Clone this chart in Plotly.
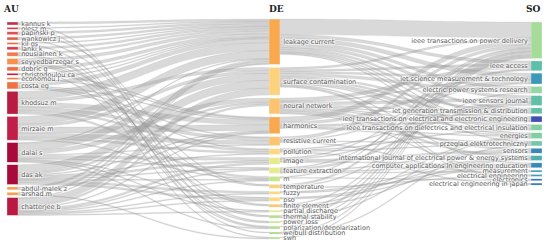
import plotly.graph_objects as go

# ---------------- data ----------------
au_labels = ["kannus k", "olesz m", "papinski p", "wankowicz j", "kil gs", "lanki k",
             "nousiainen k", "seyyedbarzegar s", "dobric g", "christodoulou ca",
             "economou l", "costa eg", "khodsuz m", "mirzaie m", "dalai s", "das ak",
             "abdul-malek z", "arshad m", "chatterjee b"]
de_labels = ["leakage current", "surface contamination", "neural network", "harmonics",
             "resistive current", "pollution", "image", "feature extraction", "m",
             "temperature", "fuzzy", "pso", "finite element", "partial discharge",
             "thermal stability", "power loss", "polarization/depolarization",
             "weibull distribution", "swh"]
so_labels = ["ieee transactions on power delivery", "ieee access",
             "iet science measurement & technology", "electric power systems research",
             "ieee sensors journal", "iet generation transmission & distribution",
             "ieej transactions on electrical and electronic engineering",
             "ieee transactions on dielectrics and electrical insulation", "energies",
             "przeglad elektrotechniczny", "sensors",
             "international journal of electrical power & energy systems",
             "computer applications in engineering education", "measurement",
             "electrical engineering", "electronics", "electrical engineering in japan"]

au_de_src = ["kannus k", "kannus k", "olesz m", "olesz m", "papinski p", "papinski p",
             "wankowicz j", "wankowicz j", "kil gs", "kil gs", "lanki k", "lanki k",
             "nousiainen k", "nousiainen k", "nousiainen k",
             "seyyedbarzegar s", "seyyedbarzegar s", "seyyedbarzegar s", "seyyedbarzegar s",
             "dobric g", "dobric g", "christodoulou ca", "christodoulou ca",
             "economou l", "economou l",
             "costa eg", "costa eg", "costa eg", "costa eg",
             "khodsuz m", "khodsuz m", "khodsuz m", "khodsuz m", "khodsuz m", "khodsuz m",
             "mirzaie m", "mirzaie m", "mirzaie m", "mirzaie m", "mirzaie m", "mirzaie m",
             "dalai s", "dalai s", "dalai s", "dalai s", "dalai s", "dalai s", "dalai s",
             "dalai s", "dalai s",
             "das ak", "das ak", "das ak", "das ak", "das ak", "das ak", "das ak", "das ak",
             "das ak",
             "abdul-malek z", "abdul-malek z", "arshad m", "arshad m",
             "chatterjee b", "chatterjee b", "chatterjee b", "chatterjee b", "chatterjee b",
             "chatterjee b", "chatterjee b", "chatterjee b", "chatterjee b", "chatterjee b"]
au_de_tgt = ["leakage current", "thermal stability", "leakage current", "power loss",
             "leakage current", "temperature", "leakage current", "finite element",
             "leakage current", "weibull distribution", "leakage current",
             "polarization/depolarization",
             "leakage current", "thermal stability", "power loss",
             "leakage current", "finite element", "temperature", "polarization/depolarization",
             "leakage current", "swh", "leakage current", "harmonics",
             "leakage current", "harmonics",
             "leakage current", "pollution", "harmonics", "resistive current",
             "leakage current", "harmonics", "resistive current", "surface contamination",
             "pollution", "m",
             "leakage current", "harmonics", "resistive current", "surface contamination",
             "pollution", "m",
             "leakage current", "surface contamination", "neural network", "resistive current",
             "image", "feature extraction", "pso", "partial discharge",
             "polarization/depolarization",
             "surface contamination", "neural network", "harmonics", "pollution", "image",
             "feature extraction", "m", "fuzzy", "pso",
             "leakage current", "harmonics", "leakage current", "swh",
             "leakage current", "surface contamination", "neural network", "harmonics",
             "image", "feature extraction", "m", "fuzzy", "pso", "partial discharge"]
au_de_val = [2, 1, 1, 1, 2, 1, 2, 1, 1, 1, 2, 1,
             2, 1, 1,
             3, 1, 1, 1,
             3, 1, 1, 1, 1, 1,
             4, 1, 1, 1,
             8, 5, 3, 3, 2, 2,
             8, 6, 4, 3, 2, 1,
             1, 7, 4, 1, 3, 1, 1, 1, 1,
             8, 2, 1, 1, 2, 1, 1, 2, 2,
             2, 1, 2, 1,
             1, 7, 2, 1, 2, 1, 1, 1, 1, 1]

de_so_src = ["leakage current", "harmonics", "resistive current", "thermal stability",
             "finite element", "temperature", "power loss", "polarization/depolarization",
             "weibull distribution", "swh", "surface contamination", "m", "partial discharge",
             "leakage current", "neural network", "surface contamination", "feature extraction", "image",
             "leakage current", "harmonics", "surface contamination", "neural network", "resistive current",
             "leakage current", "surface contamination", "temperature",
             "leakage current", "neural network", "feature extraction", "image", "pollution",
             "leakage current", "surface contamination", "harmonics", "neural network",
             "surface contamination", "leakage current", "neural network", "harmonics",
             "surface contamination", "leakage current", "pollution", "neural network",
             "leakage current", "harmonics", "surface contamination", "finite element",
             "neural network", "thermal stability",
             "leakage current", "harmonics", "resistive current", "pollution", "weibull distribution",
             "image", "neural network", "feature extraction",
             "neural network", "fuzzy", "pso", "finite element",
             "surface contamination", "image", "feature extraction", "fuzzy", "pso",
             "neural network", "feature extraction",
             "resistive current", "temperature",
             "surface contamination", "m",
             "surface contamination", "pollution"]
de_so_tgt = (["ieee transactions on power delivery"] * 13
             + ["ieee access"] * 5
             + ["iet science measurement & technology"] * 5
             + ["electric power systems research"] * 3
             + ["ieee sensors journal"] * 5
             + ["iet generation transmission & distribution"] * 4
             + ["ieej transactions on electrical and electronic engineering"] * 4
             + ["ieee transactions on dielectrics and electrical insulation"] * 4
             + ["energies"] * 6
             + ["przeglad elektrotechniczny"] * 5
             + ["sensors"] * 3
             + ["international journal of electrical power & energy systems"] * 4
             + ["computer applications in engineering education"] * 5
             + ["measurement"] * 2
             + ["electrical engineering"] * 2
             + ["electronics"] * 2
             + ["electrical engineering in japan"] * 2)
de_so_val = [16, 5, 3, 2, 1, 2, 1, 1, 1, 1, 2, 1, 1,
             3, 3, 2, 1, 1,
             4, 3, 2, 1, 1,
             3, 3, 1,
             3, 3, 2, 1, 1,
             2, 2, 1, 1,
             2, 2, 1, 1,
             3, 1, 1, 1,
             1, 1, 1, 1, 1, 1,
             1, 1, 1, 1, 1,
             2, 2, 1,
             2, 1, 1, 1,
             1, 1, 1, 1, 1,
             1, 1,
             1, 1,
             1, 1,
             1, 1]

au_colors = ["#c0334d", "#d2404f", "#df5252", "#e0604a", "#e8704e", "#d53a4a",
             "#f07a4a", "#f8904f", "#f06a42", "#c02242", "#f08048", "#f07242",
             "#b91c42", "#c02048", "#a80a3a", "#a80a3a", "#f8a052", "#f8a052", "#b81a42"]
de_colors = ["#f8a84f", "#fdd27f", "#fcc470", "#f8a84f", "#fcc470", "#fdd880", "#e6ec8e",
             "#e6ec8e", "#c6e68e", "#fdd27f", "#fdd880", "#fdd880", "#fcc470", "#e0ea8e",
             "#b6de8e", "#c6e68e", "#b6de8e", "#a6d68e", "#b6de8e"]
so_colors = ["#a6dc9a", "#5cbfa8", "#3a98b8", "#92d8a0", "#60c0a8", "#60c0a8", "#4050b0",
             "#82d0a0", "#82d0a0", "#70c8a8", "#3888b8", "#50b0b0", "#3888b8", "#4898b8",
             "#4898b8", "#3878b0", "#3070a8"]

# ---------------- layout helpers ----------------
FIG_W, FIG_H = 550, 247
ML, MR, MT, MB = 7, 8, 19, 8
W = FIG_W - ML - MR
H = FIG_H - MT - MB
THICK = 11
PAD = 3
COL_GAP = [2.4, 3.0, 2.35]
COL_TOP = [3.0, 0.0, 3.0]

labels = au_labels + de_labels + so_labels
idx = {l: i for i, l in enumerate(labels)}
src, tgt, val = [], [], []
for s, t, v in list(zip(au_de_src, au_de_tgt, au_de_val)) + list(zip(de_so_src, de_so_tgt, de_so_val)):
    if v > 0:
        src.append(idx[s]); tgt.append(idx[t]); val.append(v)

inflow = [0] * len(labels)
outflow = [0] * len(labels)
for s, t, v in zip(src, tgt, val):
    outflow[s] += v
    inflow[t] += v
nodeval = [max(a, b) for a, b in zip(inflow, outflow)]

columns = [au_labels, de_labels, so_labels]
ky = min((H - (len(c) - 1) * PAD) / sum(nodeval[idx[l]] for l in c) for c in columns)

xs, ys = [0.0] * len(labels), [0.0] * len(labels)
for ci, col in enumerate(columns):
    xc = (THICK / 2 + ci * (W - THICK) / 2) / W
    y = COL_TOP[ci]
    for l in col:
        h = nodeval[idx[l]] * ky
        xs[idx[l]] = max(xc, 0.001)
        ys[idx[l]] = max((y + h / 2) / H, 0.001)
        y += h + COL_GAP[ci]

fig = go.Figure(go.Sankey(
    arrangement="fixed",
    node=dict(label=labels, color=au_colors + de_colors + so_colors,
              x=xs, y=ys, pad=PAD, thickness=THICK,
              line=dict(color="rgba(255,255,255,0.6)", width=0.5)),
    link=dict(source=src, target=tgt, value=val,
              color="rgba(160,160,160,0.4)",
              line=dict(color="rgba(110,110,110,0.25)", width=0.4)),
    textfont=dict(family="DejaVu Sans", size=6.5, color="#5a5a5a"),
))

headers = [("AU", 0.0, "left", -6), ("DE", ((W - THICK) / 2) / W, "left", -2), ("SO", 1.0, "right", 1)]
for txt, xp, anchor, shift in headers:
    fig.add_annotation(text="<b>" + txt + "</b>", x=xp, y=1, xref="paper", yref="paper",
                       xanchor=anchor, yanchor="bottom", yshift=3, xshift=shift, showarrow=False,
                       font=dict(family="DejaVu Serif", size=9, color="#222222"))

fig.update_layout(width=FIG_W, height=FIG_H, margin=dict(l=ML, r=MR, t=MT, b=MB),
                  paper_bgcolor="white", plot_bgcolor="white")
fig.write_html("out.html", config={"displayModeBar": False},
               post_script="document.body.style.margin='0';")
